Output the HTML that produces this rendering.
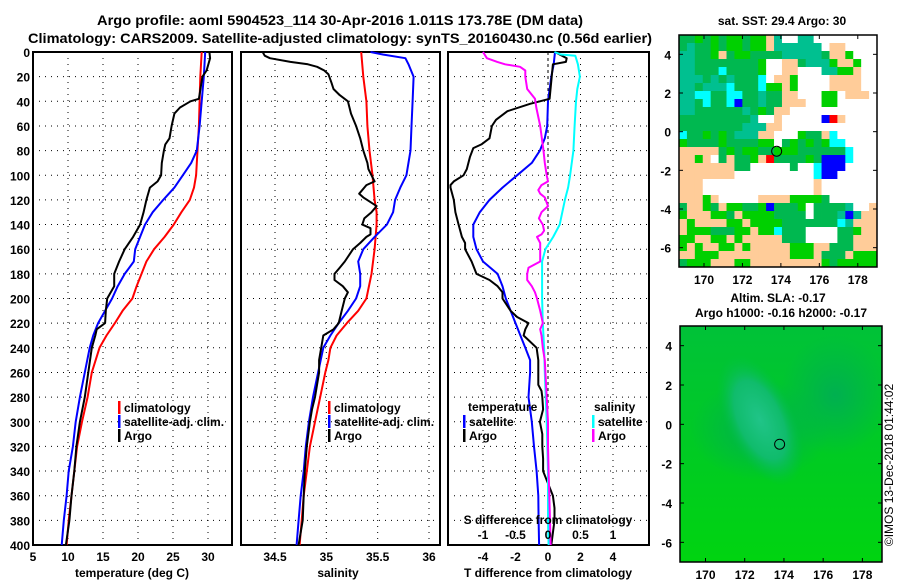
<!DOCTYPE html>
<html><head><meta charset="utf-8"><style>
body{margin:0;background:#fff}
svg{display:block}
text{font-family:"Liberation Sans",sans-serif;font-weight:bold;fill:#000}
</style></head><body>
<svg id="c" width="900" height="580" viewBox="0 0 900 580">
<text x="340" y="25" font-size="14" text-anchor="middle" textLength="486" lengthAdjust="spacingAndGlyphs">Argo profile: aoml 5904523_114 30-Apr-2016 1.011S 173.78E (DM data)</text>
<text x="340" y="43" font-size="14" text-anchor="middle" textLength="624" lengthAdjust="spacingAndGlyphs">Climatology: CARS2009. Satellite-adjusted climatology: synTS_20160430.nc (0.56d earlier)</text>
<g id="plots"></g>
<g id="maps"></g>
<text transform="translate(893,465) rotate(-90)" font-size="12" font-weight="normal" text-anchor="middle" style="font-weight:normal">©IMOS 13-Dec-2018 01:44:02</text>
</svg>
<script>
// ---- data ----
const depthTicks=[0,20,40,60,80,100,120,140,160,180,200,220,240,260,280,300,320,340,360,380,400];
const tempTicks=[5,10,15,20,25,30];
const salTicks=[34.5,35,35.5,36];
const tdiffTicks=[-4,-2,0,2,4];
const sdiffTicks=[-1,-0.5,0,0.5,1];
const sdiffTickLabels=["-1","-0.5","0","0.5","1"];

const tClimD=[0,20,40,60,80,100,110,120,130,140,150,160,170,180,190,200,210,220,230,240,260,280,300,320,340,360,380,400];
const tClimV=[29.1,28.9,28.8,28.7,28.5,28.3,28.0,27.4,26.2,25.1,23.8,22.3,21.2,20.5,19.8,19.2,17.8,16.7,15.5,14.5,13.4,12.8,12.0,11.3,10.9,10.5,10.1,9.8];
const tSatD=[0,20,40,60,80,90,100,110,120,130,140,150,160,170,180,190,200,210,220,230,240,260,280,300,320,340,360,380,400];
const tSatV=[29.6,29.4,29.1,28.8,28.4,27.6,26.4,25.2,23.6,22.1,21.0,20.3,19.6,19.4,18.1,17.1,16.3,15.3,14.3,13.6,13.1,12.4,11.7,11.1,10.7,10.1,9.8,9.4,9.1];
const tArgoD=[0,5,15,20,38,40,42,45,50,60,70,75,80,90,100,105,110,120,130,140,150,160,170,180,190,200,210,220,225,230,240,260,280,300,320,340,360,380,400];
const tArgoV=[30.2,30.3,29.8,29.2,28.7,27.5,26.9,26.0,25.2,24.8,24.5,23.9,23.7,23.4,23.3,22.8,21.7,21.2,20.8,20.3,19.3,18.1,17.3,16.6,16.6,15.6,15.4,15.3,14.1,13.9,13.4,12.9,12.4,11.7,11.2,10.9,10.5,10.2,9.7];

const sClimD=[0,20,40,60,80,100,120,130,140,150,160,180,200,210,220,230,240,250,260,280,300,320,340,360,380,400];
const sClimV=[35.34,35.36,35.39,35.40,35.42,35.45,35.47,35.49,35.49,35.48,35.47,35.44,35.39,35.31,35.20,35.10,35.04,35.02,34.99,34.94,34.89,34.84,34.81,34.78,34.76,34.74];
const sSatD=[0,2,5,10,20,40,60,80,100,110,120,130,140,150,160,170,180,190,200,210,220,230,240,260,280,300,320,340,360,380,400];
const sSatV=[35.43,35.55,35.77,35.80,35.85,35.84,35.83,35.82,35.78,35.72,35.67,35.65,35.59,35.47,35.36,35.31,35.33,35.33,35.29,35.21,35.12,35.04,34.97,34.92,34.87,34.83,34.80,34.78,34.75,34.73,34.71];
const sArgoD=[0,3,5,8,10,12,15,18,25,30,35,40,50,60,70,80,90,95,100,105,108,115,118,125,130,135,140,143,148,150,155,160,170,175,180,185,190,195,200,210,220,225,230,240,250,260,280,290,300,320,340,360,380,400];
const sArgoV=[34.38,34.40,34.45,34.65,34.82,34.91,34.98,35.02,35.05,35.07,35.13,35.21,35.24,35.29,35.33,35.36,35.40,35.41,35.44,35.47,35.39,35.32,35.36,35.49,35.44,35.37,35.35,35.43,35.43,35.39,35.33,35.26,35.18,35.13,35.08,35.08,35.16,35.21,35.18,35.15,35.12,35.07,34.97,34.95,34.93,34.93,34.89,34.86,34.84,34.81,34.79,34.78,34.77,34.73];

const tdSatD=[0,10,20,40,60,70,80,90,100,110,120,130,140,150,160,170,180,190,200,210,220,230,240,250,260,280,300,320,340,360,380,400];
const tdSatV=[0.43,0.35,0.2,0.0,-0.05,-0.2,-0.5,-1.0,-1.9,-2.8,-3.6,-4.2,-4.6,-4.6,-4.4,-4.0,-3.1,-2.8,-2.6,-2.3,-2.0,-1.7,-1.4,-1.1,-1.1,-1.2,-1.0,-0.86,-0.7,-0.6,-0.58,-0.55];
const tdArgoD=[0,5,8,10,38,40,42,48,55,60,70,75,78,85,95,100,105,108,110,120,130,140,150,155,160,170,180,185,190,195,200,210,215,220,225,230,235,240,250,260,270,275,280,290,300,310,320,330,340,350,360,370,380,390,400];
const tdArgoV=[0.43,1.15,1.1,0.3,0.1,-0.5,-1.1,-2.5,-3.2,-3.45,-3.6,-4.1,-4.6,-4.8,-5.0,-5.2,-5.8,-6.0,-6.0,-5.8,-5.7,-5.5,-5.3,-5.1,-5.1,-4.7,-4.4,-3.6,-3.1,-2.8,-2.8,-2.3,-1.9,-1.2,-1.4,-1.5,-1.1,-0.7,-0.6,-0.6,-0.6,-0.4,-0.35,-0.3,-0.5,-0.35,-0.35,-0.3,-0.3,0.0,0.3,0.4,0.4,0.3,0.2];
const sdSatD=[0,2,3,10,20,30,40,60,80,100,110,120,140,150,160,170,180,200,220,240,260,300,340,360,380,400];
const sdSatV=[0.1,0.2,0.42,0.46,0.49,0.45,0.43,0.41,0.39,0.34,0.31,0.26,0.18,0.08,-0.04,-0.09,-0.09,-0.09,-0.08,-0.06,-0.05,-0.02,0.0,0.0,0.0,0.01];
const sdArgoD=[0,5,8,10,12,15,20,30,38,45,60,80,90,100,105,108,112,115,118,125,130,135,140,145,148,150,155,160,170,175,180,185,190,195,200,210,220,225,230,240,250,260,280,300,320,340,360,380,400];
const sdArgoV=[-1.0,-0.94,-0.78,-0.66,-0.43,-0.35,-0.35,-0.32,-0.2,-0.18,-0.12,-0.07,-0.05,-0.02,0.0,-0.1,-0.15,-0.12,-0.05,0.0,-0.1,-0.14,-0.08,-0.06,-0.1,-0.17,-0.12,-0.12,-0.12,-0.3,-0.32,-0.32,-0.25,-0.2,-0.17,-0.12,-0.08,-0.12,-0.1,-0.08,-0.05,-0.04,-0.02,0.0,0.0,0.01,0.02,0.03,0.04];

const sstGrid=[
"MMGMGMGGMGGPTWWTTWWWWWWWW",
"MTMMGMGGMGGPTTTTTTWPPWWWW",
"TTMMGPMGGMMMMTTTTTMPPGWWW",
"TTMMMMMMMMGWWPPMTTTGPPGWW",
"TTMMMCMMMMGWWPPWWWTTGGPWW",
"TTTMTMTMMMCWPPGWWWWPPPPWW",
"TTMTTTCMMMCGGPGWWWWPPPPWW",
"TTCCMMCCMMTMMPPWWWGGWPPPW",
"TTMCMMCBMMTMMPPPWWGGWWWWW",
"TTMMMMMMTMGMPPWWWWWWWWWWW",
"MMMMMMMMMTWWPWWWWWBRPWWWW",
"MMMMMMMMTTTPPWWWWWWWWWWWW",
"CMMGMGMTTTPPWWWGMMPCWWWWW",
"GMMMMGMMMMGGWMGMGMGCCWWWW",
"PPPPPMGMGGMMGGGMMMMMMCWWW",
"PPGPWMPMMGPRMMMMGMBBBCWWW",
"PPPPPPPMMWWWWWMWWCBBBWWWW",
"PPPPPPPWWWWWWWWWWCBBWWWWW",
"PPPWWWWWWWWWWWWWWPWWWWWWW",
"PPPWWWWWWWWWWWWWWPWWWWWWW",
"PPPGPWWWWWPPPPGGGGMWWWWWW",
"MPPGMPGGMMGBMMMGWMMMMTWWP",
"GPPPGGMPGGGGMMMMWMMMTBTPP",
"PGPPPPGGPGGGGMMMMMMMCTPPP",
"PGGGMMMGGPGGCMMMWWWWMMGPP",
"GGPPGGPGPPPPPMMMWWWWMMPPP",
"GPGPPGGPGPPPPPGGGPPMMMPPP",
"PPGGGPPPPPPPPPGGGPMMMPGGG",
"MGGGPPPGGPPPPPPPPPGMGGGGG"];
const lonTicks=[170,172,174,176,178];
const latTicks=[4,2,0,-2,-4,-6];
const argoLon=173.78, argoLat=-1.011;

// ---- drawing ----
const NS='http://www.w3.org/2000/svg';
const plots=document.getElementById('plots');
const maps=document.getElementById('maps');
function el(tag,attrs,parent){const e=document.createElementNS(NS,tag);for(const k in attrs)e.setAttribute(k,attrs[k]);(parent||plots).appendChild(e);return e;}
const Y0=52,Y1=545;
function yD(d){return Y0+(Y1-Y0)*d/400;}
function lin(d0,d1,r0,r1){return v=>r0+(v-d0)*(r1-r0)/(d1-d0);}
const xT=lin(5,30,33,208);
const xS=lin(34.5,36,275,429);
const xTd=lin(-4,4,483,613);
const xSd=lin(-1,1,483,613);

function panel(x0,x1,name,gridXs,zeroX){
  const g=el('g',{});
  
  
  for(const d of depthTicks){if(d===0||d===400)continue;
    const l=el('line',{x1:x0,x2:x1,y1:yD(d),y2:yD(d),stroke:'#000','stroke-width':1,'stroke-dasharray':'1,5'},g);
    }
  for(const gx of gridXs){
    const l=el('line',{x1:gx,x2:gx,y1:Y0,y2:Y1,stroke:'#000','stroke-width':1,'stroke-dasharray':'1,5'},g);
    }
  if(zeroX!==undefined){
    const z=el('line',{x1:zeroX,x2:zeroX,y1:Y0,y2:Y1,stroke:'#000','stroke-width':1,'stroke-dasharray':'3,3'},g);
    }
  const r=el('rect',{x:x0,y:Y0,width:x1-x0,height:Y1-Y0,fill:'none',stroke:'#000','stroke-width':2},g);
  
  return g;
}
function curve(g,D,V,sx,color,name,w){
  const pts=D.map((d,i)=>sx(V[i]).toFixed(1)+','+yD(d).toFixed(1)).join(' ');
  const p=el('polyline',{points:pts,fill:'none',stroke:color,'stroke-width':w||2,'stroke-linejoin':'round'},g);
  
}
function txt(parent,x,y,s,anchor,name,size){
  const t=el('text',{x:x,y:y,'font-size':size||12,'text-anchor':anchor||'middle'},parent);
  t.textContent=s;
  return t;
}

// y tick labels
for(const d of depthTicks){txt(plots,30,yD(d)+5,String(d),'end','depth-tick-label');}

// panel 1
const p1=panel(33,232,'temperature-panel',tempTicks.filter(v=>v>5).map(xT));
curve(p1,tClimD,tClimV,xT,'#f00','temp-climatology-line');
curve(p1,tSatD,tSatV,xT,'#00f','temp-satellite-line');
curve(p1,tArgoD,tArgoV,xT,'#000','temp-argo-line');
for(const v of tempTicks)txt(plots,xT(v),561,String(v),'middle','temp-tick-label');
txt(plots,132,577,'temperature (deg C)','middle','temp-axis-title');

// panel 2
const p2=panel(241,440,'salinity-panel',salTicks.map(xS));
curve(p2,sClimD,sClimV,xS,'#f00','sal-climatology-line');
curve(p2,sSatD,sSatV,xS,'#00f','sal-satellite-line');
curve(p2,sArgoD,sArgoV,xS,'#000','sal-argo-line');
for(const v of salTicks)txt(plots,xS(v),561,String(v),'middle','sal-tick-label');
txt(plots,338,577,'salinity','middle','sal-axis-title');

// panel 3
const p3=panel(448,649,'difference-panel',[xTd(-4),xTd(-2),xTd(2),xTd(4)],xTd(0));
curve(p3,tdSatD,tdSatV,xTd,'#00f','tdiff-satellite-line');
curve(p3,tdArgoD,tdArgoV,xTd,'#000','tdiff-argo-line');
curve(p3,sdSatD,sdSatV,xSd,'#0ff','sdiff-satellite-line');
curve(p3,sdArgoD,sdArgoV,xSd,'#f0f','sdiff-argo-line');
for(const v of tdiffTicks)txt(plots,xTd(v),561,String(v),'middle','tdiff-tick-label');
txt(plots,548,577,'T difference from climatology','middle','tdiff-axis-title');
sdiffTicks.forEach((v,i)=>txt(plots,xSd(v),539,sdiffTickLabels[i],'middle','sdiff-tick-label'));
txt(plots,548,524,'S difference from climatology','middle','sdiff-axis-title');

// legends
function legend(parent,x,y,color,label,name){
  const b=el('rect',{x:x,y:y-11,width:2.5,height:13,fill:color},parent);
  
  txt(parent,x+6,y,label,'start',name);
}
legend(plots,118,412,'#f00','climatology','legend-climatology');
legend(plots,118,426,'#00f','satellite-adj. clim.','legend-satellite');
legend(plots,118,440,'#000','Argo','legend-argo');
legend(plots,328,412,'#f00','climatology','legend-climatology');
legend(plots,328,426,'#00f','satellite-adj. clim.','legend-satellite');
legend(plots,328,440,'#000','Argo','legend-argo');
txt(plots,468,411,'temperature','start','legend-temperature-heading');
legend(plots,463,426,'#00f','satellite','legend-t-satellite');
legend(plots,463,440,'#000','Argo','legend-t-argo');
txt(plots,594,411,'salinity','start','legend-salinity-heading');
legend(plots,592,426,'#0ff','satellite','legend-s-satellite');
legend(plots,592,440,'#f0f','Argo','legend-s-argo');

// ---- maps ----
const colors={G:'#00d000',M:'#00b850',T:'#00c090',P:'#ffcc99',W:'#ffffff',C:'#00ffff',B:'#0000ff',R:'#ff0000'};
function mapAxes(x0,x1,y0,y1,lon0,lon1,lat0,lat1,name){
  const mx=lin(lon0,lon1,x0,x1), my=lin(lat0,lat1,y0,y1);
  const f=el('rect',{x:x0,y:y0,width:x1-x0,height:y1-y0,fill:'none',stroke:'#000','stroke-width':1.5},maps);
  
  for(const v of lonTicks){txt(maps,mx(v),y1+17,String(v),'middle',name+'-lon-label');
    el('line',{x1:mx(v),x2:mx(v),y1:y0,y2:y0+4,stroke:'#000'},maps);
    el('line',{x1:mx(v),x2:mx(v),y1:y1,y2:y1-4,stroke:'#000'},maps);}
  for(const v of latTicks){txt(maps,x0-8,my(v)+5,String(v),'end',name+'-lat-label');
    el('line',{x1:x1,x2:x1-4,y1:my(v),y2:my(v),stroke:'#000'},maps);
    el('line',{x1:x0,x2:x0+4,y1:my(v),y2:my(v),stroke:'#000'},maps);}
  const c=el('circle',{cx:mx(argoLon),cy:my(argoLat),r:5,fill:'none',stroke:'#000','stroke-width':1},maps);
  
}
// SST map
const M1={x0:679,x1:877,y0:35,y1:267};
const cw=(M1.x1-M1.x0)/25, ch=(M1.y1-M1.y0)/sstGrid.length;
const sstG=el('g',{},maps);


sstGrid.forEach((row,i)=>{for(let j=0;j<row.length;j++){
  el('rect',{x:(M1.x0+j*cw).toFixed(2),y:(M1.y0+i*ch).toFixed(2),width:(cw+0.4).toFixed(2),height:(ch+0.4).toFixed(2),fill:colors[row[j]]},sstG);}});
mapAxes(679,877,35,267,168.7,179,5,-7,'sst-map');
txt(maps,782,25,'sat. SST: 29.4 Argo: 30','middle','sst-map-title');
// SLA map
const defs=el('defs',{},maps);
defs.innerHTML='<radialGradient id="blob" cx="0.5" cy="0.5" r="0.5"><stop offset="0" stop-color="#20c488"/><stop offset="0.6" stop-color="#10bc6c"/><stop offset="1" stop-color="#00c040" stop-opacity="0"/></radialGradient>'+
'<radialGradient id="ne" cx="0.5" cy="0.5" r="0.5"><stop offset="0" stop-color="#00b050"/><stop offset="1" stop-color="#00b050" stop-opacity="0"/></radialGradient>'+
'<linearGradient id="slabg" x1="0" y1="0" x2="0" y2="1"><stop offset="0" stop-color="#00c238"/><stop offset="0.6" stop-color="#00cc20"/><stop offset="1" stop-color="#00d410"/></linearGradient>'+
'<clipPath id="slaclip"><rect x="680" y="326" width="202" height="236"/></clipPath>';
const slaG=el('g',{'clip-path':'url(#slaclip)'},maps);


el('rect',{x:680,y:326,width:202,height:236,fill:'url(#slabg)'},slaG);
el('ellipse',{cx:835,cy:395,rx:55,ry:60,fill:'url(#ne)'},slaG);
el('ellipse',{cx:760,cy:430,rx:70,ry:50,fill:'url(#ne)'},slaG);
el('ellipse',{cx:760,cy:420,rx:35,ry:70,fill:'url(#blob)',transform:'rotate(-25 760 420)'},slaG);
mapAxes(680,882,326,562,168.7,179,5,-7,'sla-map');
txt(maps,778,302,'Altim. SLA: -0.17','middle','sla-map-title');
txt(maps,781,317,'Argo h1000: -0.16 h2000: -0.17','middle','sla-map-subtitle');
</script>
</body></html>
